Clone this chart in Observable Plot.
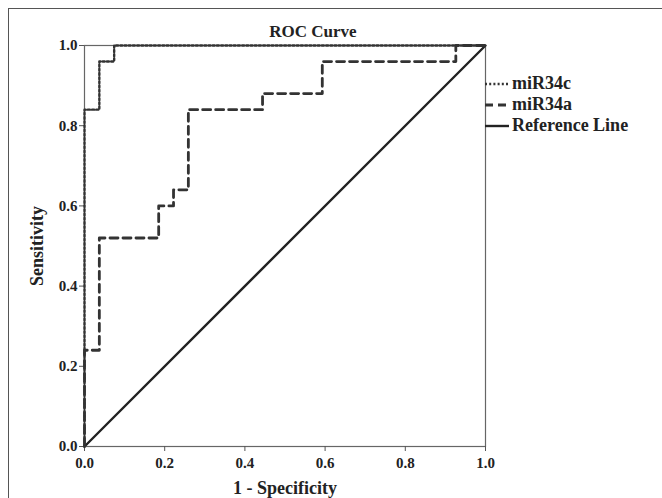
<!DOCTYPE html>
<html>
<head>
<meta charset="utf-8">
<script src="https://cdn.jsdelivr.net/npm/d3@7"></script>
<script src="https://cdn.jsdelivr.net/npm/@observablehq/plot@0.6"></script>
<style>
  html, body { margin: 0; padding: 0; background: #fff; }
  #wrap { position: relative; width: 662px; height: 498px; overflow: hidden; font-family: "Liberation Serif", "Times New Roman", serif; font-weight: bold; color: #222; }
  #border { position: absolute; left: 8px; top: 8px; width: 700px; height: 600px; border-top: 1.5px solid #555; border-left: 1.5px solid #555; }
  #title { position: absolute; top: 22px; left: 0; width: 662px; text-align: center; font-size: 17px; padding-right: 36px; box-sizing: border-box; }
  #legend { position: absolute; left: 485px; top: 73px; font-size: 18px; }
  .row { display: flex; align-items: center; height: 21px; }
  .row svg { display: block; margin-right: 3px; }
</style>
</head>
<body>
<div id="wrap">
  <div id="border"></div>
  <div id="chart"></div>
  <div id="title">ROC Curve</div>
  <div id="legend"></div>
</div>
<script>
// ---- data ----
const seriesNames = ["miR34c", "miR34a", "Reference Line"];
const mir34cX = [0, 0, 0.037, 0.037, 0.074, 0.074, 1];
const mir34cY = [0, 0.84, 0.84, 0.96, 0.96, 1, 1];
const mir34aX = [0, 0, 0.037, 0.037, 0.185, 0.185, 0.222, 0.222, 0.259, 0.259, 0.444, 0.444, 0.593, 0.593, 0.926, 0.926, 1];
const mir34aY = [0, 0.24, 0.24, 0.52, 0.52, 0.60, 0.60, 0.64, 0.64, 0.84, 0.84, 0.88, 0.88, 0.96, 0.96, 1, 1];
const refX = [0, 1];
const refY = [0, 1];
const tickValues = [0, 0.2, 0.4, 0.6, 0.8, 1.0];

const toPts = (xs, ys) => xs.map((x, i) => ({x, y: ys[i]}));
const styles = {
  "miR34c": {stroke: "#333", strokeWidth: 2.4, dash: "2,2.2"},
  "miR34a": {stroke: "#333", strokeWidth: 2.8, dash: "8,5"},
  "Reference Line": {stroke: "#222", strokeWidth: 2.4, dash: null}
};

const plot = Plot.plot({
  width: 662,
  height: 498,
  marginLeft: 84,
  marginRight: 177,
  marginTop: 45,
  marginBottom: 52,
  style: {fontFamily: "'Liberation Serif', 'Times New Roman', serif", fontWeight: "bold", fontSize: "15px", color: "#222", background: "transparent"},
  x: {domain: [0, 1]},
  y: {domain: [0, 1]},
  marks: [
    Plot.frame({stroke: "#666", strokeWidth: 1.2}),
    Plot.axisX({ticks: tickValues, tickFormat: ".1f", tickSize: 5, tickPadding: 6, label: "1 - Specificity", labelAnchor: "center", labelArrow: "none", labelOffset: 47, fontSize: 15, stroke: "#555"}),
    Plot.axisY({ticks: tickValues, tickFormat: ".1f", tickSize: 5, tickPadding: 2, label: "Sensitivity", labelAnchor: "center", labelArrow: "none", labelOffset: 54, fontSize: 15, stroke: "#555"}),
    Plot.line(toPts(refX, refY), {x: "x", y: "y", stroke: styles["Reference Line"].stroke, strokeWidth: styles["Reference Line"].strokeWidth}),
    Plot.line(toPts(mir34aX, mir34aY), {x: "x", y: "y", stroke: styles["miR34a"].stroke, strokeWidth: styles["miR34a"].strokeWidth, strokeDasharray: styles["miR34a"].dash}),
    Plot.line(toPts(mir34cX, mir34cY), {x: "x", y: "y", stroke: styles["miR34c"].stroke, strokeWidth: styles["miR34c"].strokeWidth, strokeDasharray: styles["miR34c"].dash})
  ]
});
d3.select(plot).selectAll("g[aria-label='x-axis label'] text, g[aria-label='y-axis label'] text").style("font-size", "18px");
document.getElementById("chart").appendChild(plot);

// legend
const legend = d3.select("#legend");
for (const name of seriesNames) {
  const s = styles[name];
  const row = legend.append("div").attr("class", "row");
  const svg = row.append("svg").attr("width", 24).attr("height", 10);
  svg.append("line").attr("x1", 0).attr("x2", 24).attr("y1", 5).attr("y2", 5)
    .attr("stroke", s.stroke).attr("stroke-width", s.strokeWidth)
    .attr("stroke-dasharray", s.dash);
  row.append("span").text(name);
}
</script>
</body>
</html>
